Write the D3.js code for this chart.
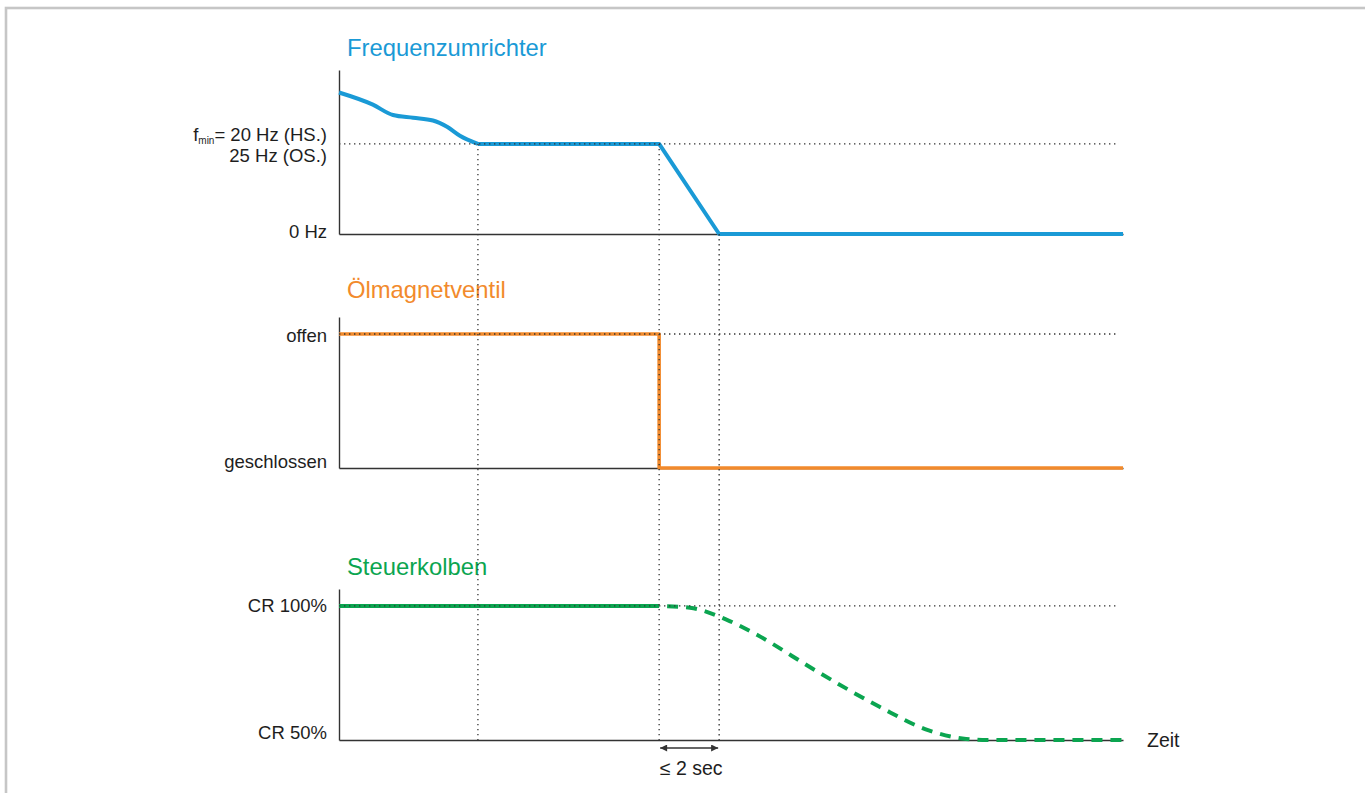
<!DOCTYPE html>
<html>
<head>
<meta charset="utf-8">
<script src="https://cdn.jsdelivr.net/npm/d3@7/dist/d3.min.js"></script>
<style>
  html, body { margin: 0; padding: 0; background: #fff; }
  svg { display: block; font-family: "Liberation Sans", Arial, sans-serif; }
</style>
</head>
<body>
<svg id="chart" width="1365" height="793"></svg>
<script>
// ---- data (time in seconds) ----
const timeEnd = 26.13;
const timeDotEnd = 25.93;
const timeFmin = 4.63;      // frequency reaches f_min
const timeValveClose = 10.67; // oil valve closes
const timeZero = 12.67;     // frequency reaches 0 Hz (<= 2 sec after)

const panelTitles = ["Frequenzumrichter", "Ölmagnetventil", "Steuerkolben"];

// Frequenzumrichter (Hz)
const freqRampTime = [0, 1.13, 1.8, 2.47, 3.13, 3.6, 4.03, 4.63];
const freqRampHz   = [31.4, 28.7, 26.4, 25.8, 25.2, 23.8, 21.8, 20];
const freqStopTime = [4.63, 10.67, 12.67, 26.13];
const freqStopHz   = [20, 20, 0, 0];
const freqTicks = [0, 20];
const freqTickLabels = ["0 Hz", "20 Hz (HS.)"];

// Ölmagnetventil (1 = offen, 0 = geschlossen)
const valveTime  = [0, 10.67, 10.67, 26.13];
const valveState = [1, 1, 0, 0];
const valveTicks = [0, 1];
const valveTickLabels = ["geschlossen", "offen"];

// Steuerkolben (CR %)
const pistonSolidTime = [0, 10.67];
const pistonSolidCR   = [100, 100];
const pistonDashTime = [10.67, 11.7, 12.93, 13.93, 15.87, 18.03, 19.63, 20.9, 21.6, 26.13];
const pistonDashCR   = [100, 99.3, 94.8, 89.2, 76, 62.3, 53.7, 50.4, 50, 50];
const pistonTicks = [50, 100];
const pistonTickLabels = ["CR 50%", "CR 100%"];

// ---- styles ----
const BLUE = "#1a9ad6", ORANGE = "#f28a2c", GREEN = "#0ba550";
const AXIS = "#333", TEXT = "#1e1e1e", DOT = "#333";

const svg = d3.select("#chart");

// frame
svg.append("rect").attr("x", 6).attr("y", 8).attr("width", 1380).attr("height", 800)
  .attr("fill", "none").attr("stroke", "#c6c6c6").attr("stroke-width", 2.6);

const x = d3.scaleLinear().domain([0, timeEnd]).range([339, 1123]);
const yF = d3.scaleLinear().domain([0, 36.4]).range([234, 70]);
const yV = d3.scaleLinear().domain([0, 1.127]).range([468, 317]);
const yP = d3.scaleLinear().domain([50, 106.3]).range([740, 589]);

const zip = (a, b) => a.map((v, i) => [v, b[i]]);

function drawAxes(y, base) {
  const g = svg.append("g");
  g.append("g").attr("transform", `translate(${x(0)},0)`)
    .call(d3.axisLeft(y).tickValues([]).tickSizeOuter(0))
    .call(s => s.select(".domain").attr("stroke", AXIS).attr("stroke-width", 1.4));
  g.append("g").attr("transform", `translate(0,${y(base)})`)
    .call(d3.axisBottom(x).tickValues([]).tickSizeOuter(0))
    .call(s => s.select(".domain").attr("stroke", AXIS).attr("stroke-width", 1.4));
}
drawAxes(yF, 0);
drawAxes(yV, 0);
drawAxes(yP, 50);

function label(txt, yy, dy, size) {
  svg.append("text").attr("x", 327).attr("y", yy + dy).attr("text-anchor", "end")
    .attr("font-size", size || 18.5).attr("fill", TEXT).text(txt);
}
// tick labels
label(freqTickLabels[0], yF(freqTicks[0]), 4);
// f_min two-line label
const fl = svg.append("text").attr("x", 327).attr("y", yF(freqTicks[1]) - 3)
  .attr("text-anchor", "end").attr("font-size", 18.5).attr("fill", TEXT);
fl.append("tspan").text("f");
fl.append("tspan").attr("font-size", 10).attr("dy", 3).text("min");
fl.append("tspan").attr("dy", -3).text("= " + freqTickLabels[1]);
label("25 Hz (OS.)", yF(freqTicks[1]), 18);
label(valveTickLabels[0], yV(valveTicks[0]), 0);
label(valveTickLabels[1], yV(valveTicks[1]), 8);
label(pistonTickLabels[0], yP(pistonTicks[0]), -1);
label(pistonTickLabels[1], yP(pistonTicks[1]), 6);

// titles
const titleY = [56, 298, 575];
const titleC = [BLUE, ORANGE, GREEN];
panelTitles.forEach((t, i) => {
  svg.append("text").attr("x", 347).attr("y", titleY[i]).attr("font-size", 23.8)
    .attr("fill", titleC[i]).text(t);
});

// series lines
function path(data, y, color, curve, dash) {
  const p = svg.append("path")
    .attr("d", d3.line().x(d => x(d[0])).y(d => y(d[1])).curve(curve)(data))
    .attr("fill", "none").attr("stroke", color).attr("stroke-width", 4)
    .attr("stroke-linejoin", "round");
  if (dash) p.attr("stroke-dasharray", "11,8").attr("stroke-dashoffset", 11);
  return p;
}
path(zip(freqRampTime, freqRampHz), yF, BLUE, d3.curveMonotoneX);
path(zip(freqStopTime, freqStopHz), yF, BLUE, d3.curveLinear);
path(zip(valveTime, valveState), yV, ORANGE, d3.curveLinear).attr("stroke-width", 3.6);
path(zip(pistonSolidTime, pistonSolidCR), yP, GREEN, d3.curveLinear);
path(zip(pistonDashTime, pistonDashCR), yP, GREEN, d3.curveMonotoneX, true);

// dotted guides
function dotted(x1, y1, x2, y2) {
  svg.append("line").attr("x1", x1).attr("y1", y1).attr("x2", x2).attr("y2", y2)
    .attr("stroke", DOT).attr("stroke-width", 1.3).attr("stroke-dasharray", "1.4,3.6");
}
dotted(x(0), yF(20), x(timeDotEnd), yF(20));
dotted(x(0), yV(1), x(timeDotEnd), yV(1));
dotted(x(0), yP(100), x(timeDotEnd), yP(100));
dotted(x(timeFmin), yF(20), x(timeFmin), yP(50));
dotted(x(timeValveClose), yF(20), x(timeValveClose), yP(50) + 4);
dotted(x(timeZero), yF(0), x(timeZero), yP(50) + 4);

// arrow
const defs = svg.append("defs");
["s", "e"].forEach(k => {
  defs.append("marker").attr("id", "arr" + k).attr("viewBox", "0 0 10 10")
    .attr("refX", k === "e" ? 10 : 0).attr("refY", 5)
    .attr("markerWidth", 8).attr("markerHeight", 7).attr("markerUnits", "userSpaceOnUse")
    .attr("orient", "auto")
    .append("path").attr("d", k === "e" ? "M0,0 L10,5 L0,10 Z" : "M10,0 L0,5 L10,10 Z")
    .attr("fill", AXIS);
});
svg.append("line").attr("x1", x(timeValveClose) + 1).attr("x2", x(timeZero) - 1)
  .attr("y1", 748).attr("y2", 748).attr("stroke", AXIS).attr("stroke-width", 1.3)
  .attr("marker-start", "url(#arrs)").attr("marker-end", "url(#arre)");
svg.append("text").attr("x", (x(timeValveClose) + x(timeZero)) / 2 + 2).attr("y", 775)
  .attr("text-anchor", "middle").attr("font-size", 19.5).attr("fill", TEXT)
  .text("≤ 2 sec");

// Zeit
svg.append("text").attr("x", 1147).attr("y", 747).attr("font-size", 19.5)
  .attr("fill", TEXT).text("Zeit");
</script>
</body>
</html>
